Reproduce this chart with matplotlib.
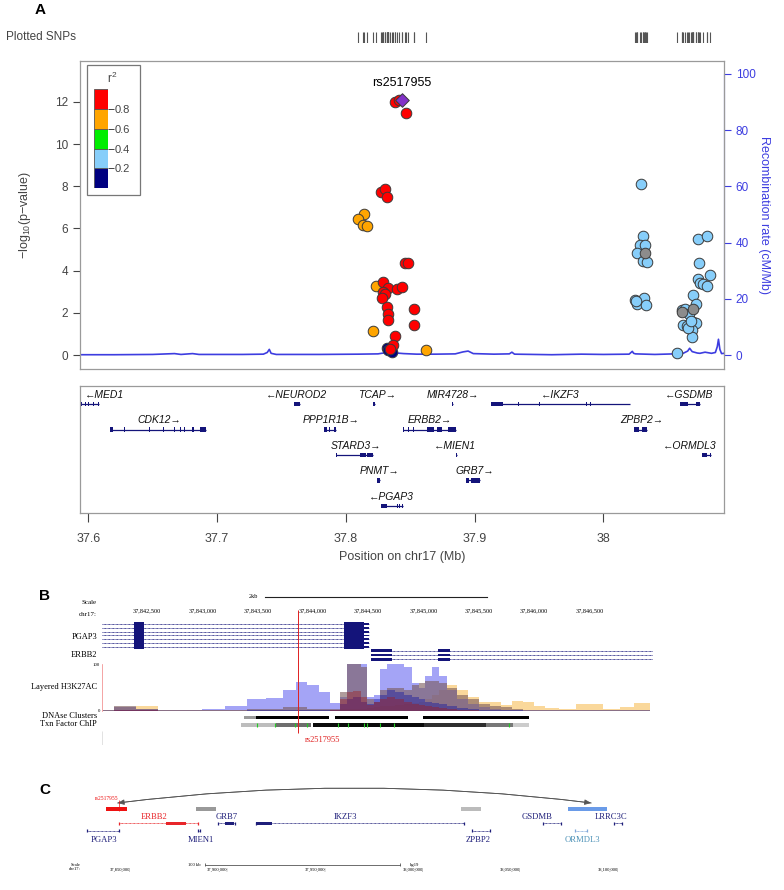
import matplotlib
matplotlib.use('Agg')
import matplotlib.pyplot as plt
from matplotlib.patches import Rectangle, FancyArrowPatch
import numpy as np

plt.rcParams['font.family'] = ['Liberation Sans', 'DejaVu Sans']
plt.rcParams['mathtext.default'] = 'regular'
SERIF = ['Liberation Serif', 'DejaVu Serif']

W, H = 784, 890


def rect(x0, y0, x1, y1):
    # pixel box (top-left origin) -> figure fraction
    return [x0 / W, 1 - y1 / H, (x1 - x0) / W, (y1 - y0) / H]


def fx(x):
    return x / W


def fy(y):
    return 1 - y / H


# ---------------- panel A data ----------------
XLIM = (37.5936, 38.0937)

red_pos = [37.8383, 37.8416, 37.8468, 37.8272, 37.8305, 37.8318, 37.8460, 37.8486, 37.8287,
           37.8330, 37.8396, 37.8434, 37.8287, 37.8305, 37.8279, 37.8323, 37.8330, 37.8326,
           37.8533, 37.8533, 37.8385, 37.8365, 37.8340]
red_logp = [11.97, 12.08, 11.45, 7.71, 7.85, 7.47, 4.37, 4.37, 3.44,
            3.19, 3.11, 3.24, 3.00, 2.88, 2.69, 2.29, 1.93, 1.66,
            2.16, 1.42, 0.92, 0.47, 0.30]
orange_pos = [37.8140, 37.8098, 37.8136, 37.8163, 37.8235, 37.8214, 37.8621]
orange_logp = [6.68, 6.43, 6.16, 6.13, 3.27, 1.15, 0.24]
navy_pos = [37.8320, 37.8330, 37.8357]
navy_logp = [0.35, 0.24, 0.16]
grey_pos = [38.0325, 38.0695, 38.0609]
grey_logp = [4.85, 2.20, 2.05]
lblue_pos = [38.0293, 38.0311, 38.0286, 38.0325, 38.0260, 38.0306, 38.0337, 38.0247, 38.0265,
             38.0318, 38.0329, 38.0255, 38.0571, 38.0609, 38.0635, 38.0622, 38.0648, 38.0669,
             38.0700, 38.0720, 38.0700, 38.0720, 38.0690, 38.0686, 38.0738, 38.0808, 38.0744,
             38.0738, 38.0750, 38.0772, 38.0808, 38.0829, 38.0660, 38.0680]
lblue_logp = [8.09, 5.64, 5.21, 5.21, 4.82, 4.47, 4.42, 2.61, 2.42,
              2.69, 2.37, 2.55, 0.08, 2.13, 2.17, 1.42, 1.37, 1.93,
              2.84, 2.42, 1.58, 1.50, 1.18, 0.87, 5.48, 5.64, 4.35,
              3.59, 3.40, 3.35, 3.28, 3.79, 1.30, 1.60]
index_snp = 'rs2517955'
index_pos = 37.8434
index_logp = 12.08

recomb_pos = [37.5936, 37.62, 37.65, 37.667, 37.672, 37.681, 37.686, 37.72, 37.736, 37.739,
              37.7406, 37.742, 37.746, 37.78, 37.81, 37.825, 37.832, 37.837, 37.845, 37.855,
              37.87, 37.885, 37.891, 37.895, 37.899, 37.915, 37.927, 37.929, 37.931, 37.96,
              37.983, 38.0, 38.02, 38.0225, 38.0235, 38.025, 38.04, 38.055, 38.062, 38.0655,
              38.067, 38.069, 38.073, 38.075, 38.079, 38.084, 38.087, 38.0885, 38.0894, 38.0905,
              38.0918, 38.0937]
recomb_rate = [0.1, 0.1, 0.2, 0.5, 0.2, 0.5, 0.2, 0.2, 0.3, 0.9,
               2.0, 0.6, 0.2, 0.2, 0.3, 0.4, 0.9, 0.8, 0.5, 0.3,
               0.3, 0.4, 1.1, 1.4, 0.5, 0.3, 0.4, 1.0, 0.3, 0.1,
               0.3, 0.2, 0.3, 1.3, 0.6, 0.4, 0.2, 0.4, 0.6, 1.4,
               2.4, 1.2, 0.7, 0.6, 1.0, 0.6, 0.9, 3.0, 5.6, 2.0,
               0.5, 0.6]

snp_colors = ['#FF0000', '#FFA500', '#00EE00', '#87CEFA', '#000080']  # r2 high -> low
legend_ticks = [0.2, 0.4, 0.6, 0.8]

# genes in the LocusZoom track
gene_names = ['MED1', 'CDK12', 'NEUROD2', 'PPP1R1B', 'STARD3', 'TCAP', 'PNMT', 'PGAP3',
              'ERBB2', 'MIEN1', 'MIR4728', 'GRB7', 'IKZF3', 'ZPBP2', 'GSDMB', 'ORMDL3']
gene_strand = ['-', '+', '-', '+', '+', '+', '+', '-', '+', '-', '+', '+', '-', '+', '-', '-']
gene_row = [0, 1, 0, 1, 2, 0, 3, 4, 1, 2, 0, 3, 0, 1, 0, 2]
gene_label_x = [37.6125, 37.655, 37.762, 37.789, 37.808, 37.824, 37.826, 37.8357,
                37.8656, 37.885, 37.8834, 37.900, 37.9665, 38.0296, 38.0667, 38.0667]
gene_exons = [
    [(37.5947, 37.5952), (37.5975, 37.598), (37.600, 37.6005), (37.6036, 37.6041), (37.6077, 37.6082)],
    [(37.6172, 37.6192), (37.6275, 37.6282), (37.6471, 37.6478), (37.6507, 37.6514), (37.6578, 37.6585),
     (37.6667, 37.6674), (37.6710, 37.6717), (37.6746, 37.6753), (37.6808, 37.6818), (37.6866, 37.6913)],
    [(37.7597, 37.7643)],
    [(37.7829, 37.7857), (37.7872, 37.7879), (37.7907, 37.7925)],
    [(37.7926, 37.7931), (37.8114, 37.8160), (37.8168, 37.8210)],
    [(37.8214, 37.8228)],
    [(37.8246, 37.8267)],
    [(37.8275, 37.8317), (37.8396, 37.8402), (37.8414, 37.842), (37.8435, 37.8446)],
    [(37.8446, 37.8451), (37.8485, 37.849), (37.8521, 37.8527), (37.8575, 37.858), (37.8631, 37.8684),
     (37.8709, 37.8745), (37.8791, 37.8852)],
    [(37.8852, 37.8866)],
    [(37.8825, 37.8829)],
    [(37.8934, 37.8959), (37.8970, 37.9041)],
    [(37.9130, 37.9219), (37.9341, 37.9347), (37.9466, 37.9472), (37.9501, 37.9507),
     (37.9869, 37.9875), (37.9897, 37.9903), (38.0204, 38.0209)],
    [(38.0235, 38.0278), (38.0300, 38.0342)],
    [(38.0592, 38.0656), (38.0678, 38.0684), (38.0717, 38.0752)],
    [(38.0763, 38.0806), (38.0831, 38.0836)],
]
x_ticks = [37.6, 37.7, 37.8, 37.9, 38.0]
x_ticklabels = ['37.6', '37.7', '37.8', '37.9', '38']

# ---------------- panel B data (UCSC browser view) ----------------
B_XLIM = (37842092, 37847074)
B_ticks = [37842500, 37843000, 37843500, 37844000, 37844500, 37845000, 37845500, 37846000, 37846500]
rs_bp = 37843867
pgap3_span = (37842095, 37844506)
pgap3_blocks = [(37842378, 37842469), (37844280, 37844457)]
pgap3_utr = (37844457, 37844506)
erbb2_span = (37844528, 37847074)
erbb2_blocks = [(37844528, 37844714), (37845130, 37845239)]

sig_pos = [37842100, 37842300, 37842500, 37842700, 37842900, 37843100, 37843300, 37843500, 37843650,
           37843800, 37843900, 37844000, 37844100, 37844200, 37844280, 37844330, 37844400, 37844460,
           37844520, 37844580, 37844640, 37844700, 37844780, 37844860, 37844930, 37844980, 37845050,
           37845110, 37845170, 37845250, 37845350, 37845450, 37845550, 37845650, 37845750, 37845850,
           37845950, 37846050, 37846150, 37846300, 37846450, 37846550, 37846700, 37846850, 37846950,
           37847050]
sig_orange = [3, 8, 10, 3, 2, 2, 3, 3, 3,
              3, 3, 3, 3, 3, 4, 5, 5, 5,
              6, 8, 10, 10, 12, 15, 18, 20, 25,
              35, 45, 55, 45, 30, 20, 20, 12, 22,
              20, 10, 6, 5, 15, 15, 5, 8, 18,
              18]
sig_blue = [2, 8, 5, 2, 2, 5, 10, 25, 27,
            45, 63, 55, 40, 18, 30, 100, 100, 100,
            30, 35, 90, 100, 100, 95, 60, 50, 75,
            95, 75, 45, 25, 15, 8, 5, 3, 3,
            2, 2, 2, 2, 2, 2, 2, 2, 2,
            2]
sig_mauve = [3, 10, 5, 3, 3, 3, 3, 5, 5,
             8, 8, 5, 5, 5, 40, 100, 100, 95,
             25, 20, 45, 50, 50, 45, 55, 60, 65,
             65, 60, 50, 35, 25, 15, 10, 8, 5,
             3, 2, 2, 2, 2, 2, 2, 2, 2,
             2]
sig_navy = [1, 2, 2, 1, 1, 1, 1, 2, 2,
            2, 2, 2, 2, 3, 15, 25, 30, 20,
            15, 25, 35, 45, 40, 35, 30, 25, 20,
            18, 15, 10, 6, 4, 2, 2, 2, 2,
            1, 1, 1, 1, 1, 1, 1, 1, 1,
            1]
sig_red = [1, 2, 2, 1, 1, 1, 1, 1, 1,
           1, 1, 1, 1, 3, 25, 40, 42, 30,
           12, 20, 25, 30, 25, 20, 15, 12, 10,
           8, 6, 4, 3, 2, 1, 1, 1, 1,
           1, 1, 1, 1, 1, 1, 1, 1, 1,
           1]

dnase_start = [37843376, 37843481, 37844197, 37844992]
dnase_end = [37843481, 37844145, 37844863, 37845957]
dnase_col = ['#999999', '#000000', '#000000', '#000000']
tf_start = [37843349, 37843665, 37844000, 37845000, 37845561, 37845808]
tf_end = [37843665, 37843982, 37845000, 37845561, 37845808, 37845957]
tf_col = ['#bdbdbd', '#6e6e6e', '#0a0a0a', '#2e2e2e', '#777777', '#cccccc']
tf_green = [37843494, 37843656, 37843834, 37843946, 37844229, 37844312, 37844457, 37844491,
            37844603, 37844728, 37845768]

# ---------------- panel C data ----------------
C_XLIM = (37823873, 38110760)
C_ticks = [37850000, 37900000, 37950000, 38000000, 38050000, 38100000]
C_ticklabels = ['37,850,000', '37,900,000', '37,950,000', '38,000,000', '38,050,000', '38,100,000']
c_bar_start = [37837192, 37883146, 38019059, 38073875]
c_bar_end = [37847797, 37893290, 38029305, 38094060]
c_bar_col = ['#ee1111', '#999999', '#bbbbbb', '#6a9be8']
loop_ends = (37843084, 38085821)
c_genes = ['ERBB2', 'GRB7', 'IKZF3', 'GSDMB', 'LRRC3C', 'PGAP3', 'MIEN1', 'ZPBP2', 'ORMDL3']
c_gene_start = [37843801, 37894468, 37913782, 38061068, 38097441, 37827305, 37884324, 38024540, 38077461]
c_gene_end = [37884324, 37903177, 38020596, 38070494, 38101540, 37843852, 37885300, 38033915, 38083455]
c_gene_row = [0, 0, 0, 0, 0, 1, 1, 1, 1]
c_gene_col = ['#e8262a', '#1f1f7a', '#1f1f7a', '#1f1f7a', '#1f1f7a', '#1f1f7a', '#1f1f7a', '#1f1f7a', '#7fa7d9']
c_label_col = ['#e8262a', '#1f1f7a', '#1f1f7a', '#1f1f7a', '#1f1f7a', '#1f1f7a', '#1f1f7a', '#1f1f7a', '#4f93b8']
c_label_x = [37861937, 37898900, 37960000, 38058000, 38096000, 37836000, 37885800, 38028000, 38081300]

# =====================================================================
fig = plt.figure(figsize=(W / 100, H / 100), dpi=100)
NAVY = '#14147a'
GREY_TXT = '#444444'
FRAME = '#9a9a9a'

fig.text(fx(40), fy(10), 'A', fontsize=11, fontweight='bold', ha='center', va='center')

# plotted SNP rug
axr = fig.add_axes(rect(80, 31.7, 724, 43.3))
all_pos = red_pos + orange_pos + navy_pos + grey_pos + lblue_pos + [index_pos]
axr.vlines(all_pos, 0, 1, color='#555555', lw=0.8)
axr.set_xlim(XLIM)
axr.set_ylim(0, 1)
axr.axis('off')
fig.text(fx(41), fy(37), 'Plotted SNPs', fontsize=8.5, color=GREY_TXT, ha='center', va='center')

# association plot
ax = fig.add_axes(rect(80, 60.7, 724, 369))
ax2 = ax.twinx()
ax2.plot(recomb_pos, recomb_rate, color='#3d3de0', lw=1.2)
ax2.set_ylim(-4.98, 104.7)
ax2.set_yticks([0, 20, 40, 60, 80, 100])
ax2.tick_params(axis='y', colors='#3d3de0', labelsize=8.5, length=5, width=0.8)
for s in ['top', 'bottom', 'left']:
    ax2.spines[s].set_visible(False)
ax2.spines['right'].set_bounds(0, 100)
ax2.spines['right'].set_color('#3d3de0')
ax2.set_ylabel('Recombination rate (cM/Mb)', color='#3d3de0', fontsize=9, rotation=270)
ax2.yaxis.set_label_coords(1.072, 0.5)

ax.set_zorder(ax2.get_zorder() + 1)
ax.patch.set_visible(False)
ms = 58
ec = '#3a3a3a'
ax.scatter(lblue_pos, lblue_logp, s=ms, c=snp_colors[3], edgecolors=ec, linewidths=0.7, zorder=3)
ax.scatter(grey_pos, grey_logp, s=ms, c='#8c8c8c', edgecolors=ec, linewidths=0.7, zorder=3)
ax.scatter(navy_pos, navy_logp, s=ms, c=snp_colors[4], edgecolors=ec, linewidths=0.7, zorder=3)
ax.scatter(orange_pos, orange_logp, s=ms, c=snp_colors[1], edgecolors=ec, linewidths=0.7, zorder=3)
ax.scatter(red_pos, red_logp, s=ms, c=snp_colors[0], edgecolors=ec, linewidths=0.7, zorder=4)
ax.scatter([index_pos], [index_logp], s=48, marker='D', c='#8232c8', edgecolors=ec, linewidths=0.7, zorder=5)
ax.text(index_pos, index_logp + 0.55, index_snp, fontsize=9, ha='center', va='bottom')
ax.set_xlim(XLIM)
ax.set_ylim(-0.66, 13.95)
ax.set_xticks([])
ax.set_yticks(range(0, 13, 2))
ax.tick_params(axis='y', colors=GREY_TXT, labelsize=8.5, length=5, width=0.8)
for s in ax.spines.values():
    s.set_color(FRAME)
    s.set_linewidth(0.9)
ax.set_ylabel('\u2212log$_{10}$(p\u2212value)', fontsize=9, color=GREY_TXT)
ax.yaxis.set_label_coords(-0.073, 0.5)

# r2 legend
fig.patches.append(Rectangle((fx(87), fy(195)), (140 - 87) / W, (195 - 65) / H,
                             transform=fig.transFigure, facecolor='white', edgecolor='#777777', lw=0.9,
                             zorder=5))
axl = fig.add_axes(rect(94.3, 89, 107.7, 188.3))
axl.set_zorder(10)
bounds = [0.0, 0.2, 0.4, 0.6, 0.8, 1.0]
for i in range(5):
    axl.bar(0.5, 0.2, bottom=bounds[i], width=1, color=snp_colors[4 - i], edgecolor='#555555', lw=0.6)
axl.set_xlim(0, 1)
axl.set_ylim(0, 1)
axl.set_xticks([])
axl.yaxis.tick_right()
axl.set_yticks(legend_ticks)
axl.set_yticklabels(['%.1f' % t for t in legend_ticks])
axl.tick_params(axis='y', colors=GREY_TXT, labelsize=8, length=4, width=0.7, pad=1)
for s in axl.spines.values():
    s.set_visible(False)
fig.text(fx(111.7), fy(78), 'r$^2$', fontsize=8.5, color=GREY_TXT, ha='center', va='center', zorder=11)

# gene track
axg = fig.add_axes(rect(80, 385.7, 724, 513.3))
for name, strand, row, lx, exons in zip(gene_names, gene_strand, gene_row, gene_label_x, gene_exons):
    g0 = min(e[0] for e in exons)
    g1 = max(e[1] for e in exons)
    axg.plot([g0, g1], [row, row], color=NAVY, lw=0.9, solid_capstyle='butt')
    for e0, e1 in exons:
        axg.add_patch(Rectangle((e0, row - 0.09), e1 - e0, 0.18, color=NAVY, lw=0))
    label = ('\u2190' + name) if strand == '-' else (name + '\u2192')
    axg.text(lx, row - 0.36, label, fontsize=7.5, style='italic', ha='center', va='center',
             color='#111111')
axg.set_xlim(XLIM)
axg.set_ylim(4.29, -0.72)
axg.set_yticks([])
axg.set_xticks(x_ticks)
axg.set_xticklabels(x_ticklabels)
axg.tick_params(axis='x', colors=GREY_TXT, labelsize=9, length=6.5, width=0.8, pad=8)
for s in axg.spines.values():
    s.set_color(FRAME)
    s.set_linewidth(0.9)
axg.set_xlabel('Position on chr17 (Mb)', fontsize=9, color=GREY_TXT, labelpad=4)

# ---------------- panel B ----------------
fig.text(fx(45), fy(596), 'B', fontsize=11, fontweight='bold', ha='center', va='center')
axB = fig.add_axes(rect(102, 595, 653, 745))
axB.set_xlim(B_XLIM)
axB.set_ylim(745, 595)
axB.axis('off')
axB.plot([37843570, 37845570], [597, 597], color='#222222', lw=0.8)
axB.text(37843500, 597, '2kb', fontsize=4.5, family=SERIF, ha='right', va='center')
for t in B_ticks:
    axB.text(t, 611, format(t, ','), fontsize=4.5, family=SERIF, ha='center', va='center')
pg_rows = [624.0, 627.8, 631.6, 635.4, 639.2, 643.0, 646.8]
for y in pg_rows:
    axB.plot(pgap3_span, [y, y], color=NAVY, lw=0.6, ls=(0, (1, 0.6)))
    for b0, b1 in pgap3_blocks:
        axB.add_patch(Rectangle((b0, y - 1.95), b1 - b0, 3.9, color=NAVY, lw=0))
    axB.add_patch(Rectangle((pgap3_utr[0], y - 0.9), pgap3_utr[1] - pgap3_utr[0], 1.8, color=NAVY, lw=0))
er_rows = [650.7, 655.0, 659.3]
for y in er_rows:
    axB.plot(erbb2_span, [y, y], color=NAVY, lw=0.6, ls=(0, (1, 0.6)))
    for b0, b1 in erbb2_blocks:
        axB.add_patch(Rectangle((b0, y - 1.4), b1 - b0, 2.8, color=NAVY, lw=0))
for s0, s1, c in zip(dnase_start, dnase_end, dnase_col):
    axB.add_patch(Rectangle((s0, 715.6), s1 - s0, 3.4, color=c, lw=0))
for s0, s1, c in zip(tf_start, tf_end, tf_col):
    axB.add_patch(Rectangle((s0, 723.3), s1 - s0, 3.4, color=c, lw=0))
axB.vlines(tf_green, 723.3, 726.7, color='#22cc22', lw=0.8)
axB.vlines([rs_bp], 610, 733, color='#e02020', lw=0.7, zorder=6)
axB.text(rs_bp + 60, 740, 'rs2517955', color='#e02020', fontsize=6, family=SERIF, ha='left', va='center')
axB.vlines([B_XLIM[0]], 731, 748, color='#dddddd', lw=0.6)

axS = fig.add_axes(rect(102, 664.3, 653, 711))
axS.fill_between(sig_pos, sig_orange, step='mid', color='#f6b84a', alpha=0.55, lw=0)
axS.fill_between(sig_pos, sig_blue, step='mid', color='#5a5af0', alpha=0.55, lw=0)
axS.fill_between(sig_pos, sig_mauve, step='mid', color='#7a5a5a', alpha=0.6, lw=0)
axS.fill_between(sig_pos, sig_navy, step='mid', color='#1a1aa0', alpha=0.45, lw=0)
axS.fill_between(sig_pos, sig_red, step='mid', color='#a01818', alpha=0.4, lw=0)
axS.set_xlim(B_XLIM)
axS.set_ylim(0, 100)
axS.set_xticks([])
axS.set_yticks([])
for s in ['top', 'right', 'bottom']:
    axS.spines[s].set_visible(False)
axS.spines['left'].set_color('#f08080')
axS.spines['left'].set_linewidth(0.5)
axS.patch.set_visible(False)
axS.set_zorder(axB.get_zorder() - 1)

for txt, y, size in [('Scale', 603, 5), ('chr17:', 614, 5), ('PGAP3', 636.7, 6), ('ERBB2', 655, 6),
                     ('Layered H3K27AC', 686.7, 6), ('DNAse Clusters', 715.7, 6),
                     ('Txn Factor ChIP', 724.3, 6)]:
    fig.text(fx(97), fy(y), txt, fontsize=size, family=SERIF, ha='right', va='center')
fig.text(fx(100), fy(664.5), '100', fontsize=3.5, family=SERIF, ha='right', va='center')
fig.text(fx(100), fy(710.5), '0', fontsize=3.5, family=SERIF, ha='right', va='center')

# ---------------- panel C ----------------
fig.text(fx(45), fy(790), 'C', fontsize=11, fontweight='bold', ha='center', va='center')
axC = fig.add_axes(rect(80, 780, 640, 880))
axC.set_xlim(C_XLIM)
axC.set_ylim(880, 780)
axC.axis('off')
for s0, s1, c in zip(c_bar_start, c_bar_end, c_bar_col):
    axC.add_patch(Rectangle((s0, 806.8), s1 - s0, 4.4, color=c, lw=0))
axC.add_patch(FancyArrowPatch((loop_ends[0], 803), (loop_ends[1], 803), connectionstyle='arc3,rad=-0.063',
                              arrowstyle='-|>,head_length=4,head_width=1.6', color='#555555', lw=0.6,
                              shrinkA=0, shrinkB=0))
axC.add_patch(FancyArrowPatch((loop_ends[1], 803), (loop_ends[0], 803), connectionstyle='arc3,rad=0.063',
                              arrowstyle='-|>,head_length=4,head_width=1.6', color='#555555', lw=0.6,
                              shrinkA=0, shrinkB=0))
axC.vlines([rs_bp], 800, 811, color='#ee1111', lw=0.5)
axC.text(rs_bp - 200, 798.5, 'rs2517955', color='#ee1111', fontsize=4, family=SERIF, ha='right', va='center')
for g, s0, s1, row, gc, lc, lx in zip(c_genes, c_gene_start, c_gene_end, c_gene_row, c_gene_col,
                                      c_label_col, c_label_x):
    y = 823.5 if row == 0 else 831
    axC.plot([s0, s1], [y, y], color=gc, lw=0.6, ls=(0, (1, 0.6)))
    axC.vlines([s0, s1], y - 1.5, y + 1.5, color=gc, lw=0.9)
    ly = 817 if row == 0 else 840
    axC.text(lx, ly, g, color=lc, fontsize=6.2, family=SERIF, ha='center', va='center')
# a few exon blocks
axC.add_patch(Rectangle((37913782, 822), 8248, 3, color='#1f1f7a', lw=0))
axC.add_patch(Rectangle((37868000, 822), 10000, 3, color='#e8262a', lw=0))
axC.add_patch(Rectangle((37898000, 822), 5000, 3, color='#1f1f7a', lw=0))
axC.plot([37888000, 37988000], [865, 865], color='#555555', lw=0.6)
axC.vlines([37888000, 37988000], 863.5, 866.5, color='#555555', lw=0.6)
axC.text(37885500, 865, '100 kb', fontsize=3.3, family=SERIF, ha='right', va='center')
axC.text(37993000, 865, 'hg19', fontsize=3.3, family=SERIF, ha='left', va='center')
for t, lab in zip(C_ticks, C_ticklabels):
    axC.text(t, 870, lab + '|', fontsize=3.3, family=SERIF, ha='right', va='center')
fig.text(fx(80.7), fy(864.5), 'Scale', fontsize=3.3, family=SERIF, ha='right', va='center')
fig.text(fx(80.7), fy(869.5), 'chr17:', fontsize=3.3, family=SERIF, ha='right', va='center')

fig.savefig('out.png', dpi=100)
